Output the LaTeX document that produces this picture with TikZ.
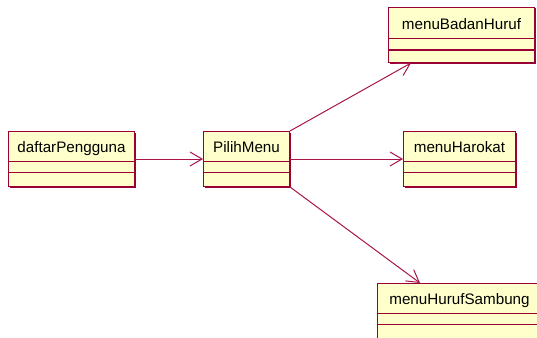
\documentclass[tikz,border=0pt]{standalone}
\usepackage{fontspec}
\setmainfont{Liberation Sans}
\usepackage{tikz}
\usetikzlibrary{arrows.meta,calc,positioning,shadows}
\usepackage{xcolor}
\definecolor{roseline}{RGB}{153,0,51}
\definecolor{rosearrow}{RGB}{168,20,75}
\definecolor{rosefill}{RGB}{255,255,204}
\tikzstyle{classbox} = [rectangle, draw=roseline, fill=rosefill, line width=1pt, inner sep=0pt, anchor=north west, minimum height=55pt, drop shadow={shadow xshift=1pt, shadow yshift=-1pt, fill=roseline, opacity=1}]
\tikzstyle{classname} = [anchor=base, font=\fontsize{15.2}{18}\selectfont]
\tikzstyle{compart} = [draw=roseline, line width=1pt]
\tikzstyle{arrow} = [line width=1pt, color=rosearrow, -{Straight Barb[length=12pt,width=14pt]}]

\begin{document}
\begin{tikzpicture}[x=1pt, y=-1pt]
    \useasboundingbox (0,0) rectangle (537,337);

    % daftarPengguna
    \node[classbox, minimum width=126pt] (daftar) at (8,131) {};
    \node[classname] at ($(daftar.north)+(0,21.5)$) {daftarPengguna};
    \draw[compart] ($(daftar.north west)+(0,30)$) -- ($(daftar.north east)+(0,30)$);
    \draw[compart] ($(daftar.north west)+(0,41)$) -- ($(daftar.north east)+(0,41)$);

    % PilihMenu
    \node[classbox, minimum width=86pt] (pilih) at (203,131) {};
    \node[classname] at ($(pilih.north)+(0,21.5)$) {PilihMenu};
    \draw[compart] ($(pilih.north west)+(0,30)$) -- ($(pilih.north east)+(0,30)$);
    \draw[compart] ($(pilih.north west)+(0,41)$) -- ($(pilih.north east)+(0,41)$);

    % menuBadanHuruf
    \node[classbox, minimum width=146pt] (badan) at (388,7) {};
    \node[classname] at ($(badan.north)+(0,22.5)$) {menuBadanHuruf};
    \draw[compart] ($(badan.north west)+(0,32)$) -- ($(badan.north east)+(0,32)$);
    \draw[compart] ($(badan.north west)+(0,43)$) -- ($(badan.north east)+(0,43)$);

    % menuHarokat
    \node[classbox, minimum width=112pt] (harokat) at (403,131) {};
    \node[classname] at ($(harokat.north)+(0,21.5)$) {menuHarokat};
    \draw[compart] ($(harokat.north west)+(0,30)$) -- ($(harokat.north east)+(0,30)$);
    \draw[compart] ($(harokat.north west)+(0,41)$) -- ($(harokat.north east)+(0,41)$);

    % menuHurufSambung
    \node[classbox, minimum width=164pt] (sambung) at (377,283) {};
    \node[classname] at ($(sambung.north)+(0,21.5)$) {menuHurufSambung};
    \draw[compart] ($(sambung.north west)+(0,30)$) -- ($(sambung.north east)+(0,30)$);
    \draw[compart] ($(sambung.north west)+(0,41)$) -- ($(sambung.north east)+(0,41)$);

    % Arrows
    \draw[arrow] (daftar.east) -- (pilih.west);
    \draw[arrow] (pilih.north east) -- ([xshift=23pt]badan.south west);
    \draw[arrow] (pilih.east) -- (harokat.west);
    \draw[arrow] (pilih.south east) -- ([xshift=43pt]sambung.north west);
\end{tikzpicture}
\end{document}
